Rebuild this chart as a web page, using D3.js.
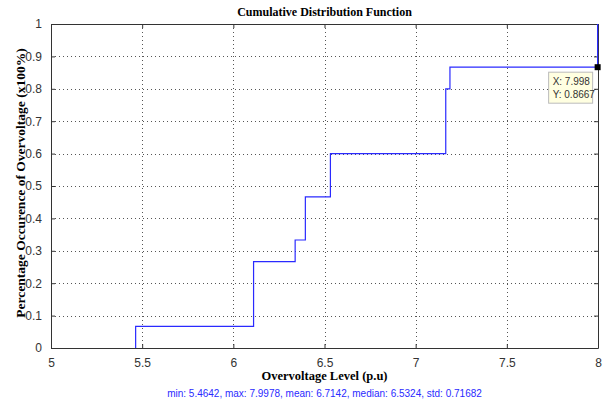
<!DOCTYPE html>
<html>
<head>
<meta charset="utf-8">
<script src="https://cdn.jsdelivr.net/npm/d3@7"></script>
<style>
  body { margin: 0; background: #fff; }
  svg text { font-family: "Liberation Sans", Arial, sans-serif; }
  .serif { font-family: "Liberation Serif", "Times New Roman", serif !important; font-weight: bold; }
</style>
</head>
<body>
<div id="chart"></div>
<script>
// step locations of the empirical CDF and the value reached there
const stepX = [5.4642, 6.111, 6.339, 6.395, 6.5324, 7.165, 7.188, 7.9978];
const stepY = [0.0667, 0.2667, 0.3333, 0.4667, 0.6, 0.8, 0.8667, 1.0];
const xTicks = [5, 5.5, 6, 6.5, 7, 7.5, 8];
const yTicks = [0, 0.1, 0.2, 0.3, 0.4, 0.5, 0.6, 0.7, 0.8, 0.9, 1];
const tipX = 7.998;
const tipY = 0.8667;
const statsText = "min: 5.4642, max: 7.9978, mean: 6.7142, median: 6.5324, std: 0.71682";

const svgWidth = 606, svgHeight = 403;
const margin = { top: 24, right: 8, bottom: 55, left: 51 };
const width = svgWidth - margin.left - margin.right;
const height = svgHeight - margin.top - margin.bottom;

const svg = d3.select("#chart").append("svg")
    .attr("width", svgWidth)
    .attr("height", svgHeight);

const g = svg.append("g")
    .attr("transform", `translate(${margin.left},${margin.top})`);

const x = d3.scaleLinear().domain([5, 8]).range([0, width]);
const y = d3.scaleLinear().domain([0, 1]).range([height, 0]);

// dotted grid
g.append("g").selectAll("line").data(xTicks.slice(1, -1)).join("line")
    .attr("x1", d => Math.round(x(d)) + 0.5).attr("x2", d => Math.round(x(d)) + 0.5)
    .attr("y1", 0).attr("y2", height)
    .attr("stroke", "#555").attr("stroke-dasharray", "1,3");
g.append("g").selectAll("line").data(yTicks.slice(1, -1)).join("line")
    .attr("y1", d => Math.round(y(d)) + 0.5).attr("y2", d => Math.round(y(d)) + 0.5)
    .attr("x1", 0).attr("x2", width)
    .attr("stroke", "#555").attr("stroke-dasharray", "1,3");

// axes, ticks inside, box on
const xAxis = g.append("g").attr("transform", `translate(0,${height})`)
    .call(d3.axisBottom(x).tickValues(xTicks).tickSizeInner(-4).tickSizeOuter(0).tickPadding(10).tickFormat(d3.format("")));
const xAxisTop = g.append("g")
    .call(d3.axisTop(x).tickValues(xTicks).tickSizeInner(-4).tickSizeOuter(0).tickFormat(""));
const yAxis = g.append("g")
    .call(d3.axisLeft(y).tickValues(yTicks).tickSizeInner(-4).tickSizeOuter(0).tickPadding(9).tickFormat(d3.format("")));
const yAxisRight = g.append("g").attr("transform", `translate(${width},0)`)
    .call(d3.axisRight(y).tickValues(yTicks).tickSizeInner(-4).tickSizeOuter(0).tickFormat(""));

[xAxis, xAxisTop, yAxis, yAxisRight].forEach(a => {
    a.select(".domain").attr("stroke", "#333");
    a.selectAll(".tick line").attr("stroke", "#333");
    a.selectAll(".tick text").attr("fill", "#333").style("font-size", "12px");
});

// CDF step line
const pts = [{ x: stepX[0], y: 0 }].concat(stepX.map((d, i) => ({ x: d, y: stepY[i] })));
const line = d3.line()
    .x(d => x(d.x))
    .y(d => y(d.y))
    .curve(d3.curveStepAfter);
g.append("path")
    .datum(pts)
    .attr("d", line)
    .attr("fill", "none")
    .attr("stroke", "#2a2aff")
    .attr("stroke-width", 1.2);

// data tip
g.append("rect")
    .attr("x", x(tipX) - 3).attr("y", y(tipY) - 3)
    .attr("width", 6).attr("height", 6)
    .attr("fill", "#000");
const tip = g.append("g").attr("transform", `translate(${x(tipX) - 49},${y(tipY) + 5})`);
tip.append("rect")
    .attr("width", 44).attr("height", 31)
    .attr("fill", "#ffffe1").attr("stroke", "#bbb");
tip.append("text").attr("x", 4).attr("y", 13).text("X: " + tipX)
    .style("font-size", "10px").attr("fill", "#333");
tip.append("text").attr("x", 4).attr("y", 26).text("Y: " + tipY)
    .style("font-size", "10px").attr("fill", "#333");

// titles
svg.append("text")
    .attr("class", "serif")
    .attr("x", margin.left + width / 2).attr("y", 16)
    .attr("text-anchor", "middle")
    .style("font-size", "12px")
    .text("Cumulative Distribution Function");
svg.append("text")
    .attr("class", "serif")
    .attr("x", margin.left + width / 2).attr("y", 380)
    .attr("text-anchor", "middle")
    .style("font-size", "12.5px")
    .text("Overvoltage Level (p.u)");
svg.append("text")
    .attr("class", "serif")
    .attr("transform", "translate(25,183) rotate(-90)")
    .attr("text-anchor", "middle")
    .style("font-size", "13.5px")
    .text("Percentage Occurence of Overvoltage (x100%)");
svg.append("text")
    .attr("x", margin.left + width / 2).attr("y", 397)
    .attr("text-anchor", "middle")
    .attr("fill", "#2a2aff")
    .style("font-size", "10px")
    .text(statsText);
</script>
</body>
</html>
